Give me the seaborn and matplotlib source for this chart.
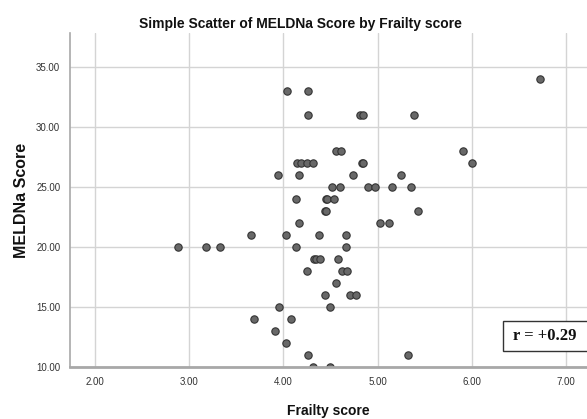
import pandas as pd
import matplotlib.pyplot as plt
import seaborn as sns
from matplotlib.patches import Rectangle

# Frailty score (x) and MELDNa score (y)
frailty = [2.88, 3.18, 3.33,
           3.66, 3.69, 3.91, 3.94, 3.95,
           4.03, 4.03, 4.04, 4.08, 4.13, 4.13, 4.14, 4.17, 4.17, 4.19,
           4.25, 4.25, 4.26, 4.26, 4.26, 4.31, 4.31,
           4.32, 4.35, 4.38, 4.39,
           4.44, 4.45, 4.44, 4.45, 4.46, 4.49, 4.50,
           4.52, 4.54, 4.56, 4.56, 4.58, 4.60, 4.61, 4.62,
           4.66, 4.66, 4.67, 4.71, 4.74, 4.77,
           4.81, 4.84, 4.83, 4.845, 4.90, 4.97,
           5.03, 5.12, 5.15, 5.25, 5.32, 5.35, 5.39, 5.43,
           5.91, 6.00, 6.72]
meldna = [20, 20, 20,
          21, 14, 13, 26, 15,
          21, 12, 33, 14, 20, 24, 27, 26, 22, 27,
          27, 18, 33, 31, 11, 27, 10,
          19, 19, 21, 19,
          23, 23, 16, 24, 24, 15, 10,
          25, 24, 28, 17, 19, 25, 28, 18,
          21, 20, 18, 16, 26, 16,
          31, 31, 27, 27, 25, 25,
          22, 22, 25, 26, 11, 25, 31, 23,
          28, 27, 34]

x_ticks = [2, 3, 4, 5, 6, 7]
y_ticks = [10, 15, 20, 25, 30, 35]
r_text = "r = +0.29"

df = pd.DataFrame({"Frailty score": frailty, "MELDNa Score": meldna})

sns.set_style("whitegrid")
plt.rcParams['font.family'] = ['Liberation Sans', 'DejaVu Sans']

fig = plt.figure(figsize=(5.87, 4.19), dpi=100)
ax = fig.add_axes([0.1193, 0.1234, 0.8807, 0.7978])

sns.scatterplot(data=df, x="Frailty score", y="MELDNa Score", ax=ax,
                color="#686868", edgecolor="#333333", linewidth=0.8, s=28)

ax.set_xlim(1.735, 7.223)
ax.set_ylim(10, 37.8)
ax.set_xticks(x_ticks)
ax.set_yticks(y_ticks)
ax.set_xticklabels([f"{v:.2f}" for v in x_ticks])
ax.set_yticklabels([f"{v:.2f}" for v in y_ticks])
ax.tick_params(length=0, labelsize=7, colors="#333333", pad=7)

ax.grid(True, color="#d4d4d4", linewidth=1)
for side in ["top", "right"]:
    ax.spines[side].set_visible(False)
ax.spines["left"].set_color("#a8a8a8")
ax.spines["left"].set_linewidth(1.2)
ax.spines["bottom"].set_color("#a8a8a8")
ax.spines["bottom"].set_linewidth(2)

ax.set_xlabel("Frailty score", fontsize=10, fontweight="bold", labelpad=12,
              color="#111111")
ax.set_ylabel("MELDNa Score", fontsize=11.5, fontweight="bold", labelpad=5,
              color="#111111")
fig.suptitle("Simple Scatter of MELDNa Score by Frailty score",
             fontsize=10, fontweight="bold", color="#111111",
             x=0.511, y=0.96)

# correlation box, running off the right edge as in the source
ax.add_patch(Rectangle((6.33, 11.35), 1.2, 2.5, facecolor="white",
                       edgecolor="#333333", linewidth=1, zorder=5,
                       clip_on=False))
ax.text(6.44, 12.6, r_text, fontsize=12, fontweight="bold", va="center",
        family=["Liberation Serif", "DejaVu Serif"], color="#111111",
        zorder=6)

plt.savefig("out.png", dpi=100)
